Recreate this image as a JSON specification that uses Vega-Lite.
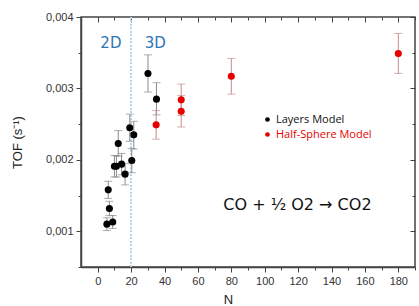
{
  "$schema": "https://vega.github.io/schema/vega-lite/v6.json",
  "width": 334,
  "height": 250,
  "autosize": "none",
  "padding": {"left": 81, "top": 17, "right": 4, "bottom": 39},
  "config": {
    "locale": {"number": {"decimal": ",", "thousands": ".", "grouping": [3], "currency": ["", ""]}},
    "view": {"stroke": "#444", "strokeWidth": 1.5},
    "axis": {"labelFont": "Liberation Sans", "titleFont": "Liberation Sans", "titleFontWeight": "normal", "labelColor": "#333", "titleColor": "#222", "domainColor": "#444", "tickColor": "#444", "grid": false}
  },
  "data": {
    "values": [
      {"model": "Layers Model", "N": 5.5, "tof": 0.00110, "lo": 0.00101, "hi": 0.00119},
      {"model": "Layers Model", "N": 6.3, "tof": 0.00158, "lo": 0.00146, "hi": 0.00170},
      {"model": "Layers Model", "N": 7.0, "tof": 0.00132, "lo": 0.00122, "hi": 0.00142},
      {"model": "Layers Model", "N": 9.0, "tof": 0.00113, "lo": 0.00104, "hi": 0.00122},
      {"model": "Layers Model", "N": 10.0, "tof": 0.00191, "lo": 0.00176, "hi": 0.00206},
      {"model": "Layers Model", "N": 11.2, "tof": 0.00191, "lo": 0.00176, "hi": 0.00206},
      {"model": "Layers Model", "N": 12.3, "tof": 0.00223, "lo": 0.00205, "hi": 0.00241},
      {"model": "Layers Model", "N": 14.3, "tof": 0.00194, "lo": 0.00179, "hi": 0.00209},
      {"model": "Layers Model", "N": 16.4, "tof": 0.00180, "lo": 0.00165, "hi": 0.00195},
      {"model": "Layers Model", "N": 19.2, "tof": 0.00245, "lo": 0.00226, "hi": 0.00264},
      {"model": "Layers Model", "N": 20.4, "tof": 0.00199, "lo": 0.00182, "hi": 0.00216},
      {"model": "Layers Model", "N": 21.6, "tof": 0.00235, "lo": 0.00215, "hi": 0.00254},
      {"model": "Layers Model", "N": 30.1, "tof": 0.00321, "lo": 0.00295, "hi": 0.00347},
      {"model": "Layers Model", "N": 35.2, "tof": 0.00285, "lo": 0.00263, "hi": 0.00308},
      {"model": "Half-Sphere Model", "N": 35.0, "tof": 0.00249, "lo": 0.00229, "hi": 0.00269},
      {"model": "Half-Sphere Model", "N": 50.0, "tof": 0.00284, "lo": 0.00262, "hi": 0.00306},
      {"model": "Half-Sphere Model", "N": 50.0, "tof": 0.00268, "lo": 0.00246, "hi": 0.00290},
      {"model": "Half-Sphere Model", "N": 80.0, "tof": 0.00317, "lo": 0.00292, "hi": 0.00342},
      {"model": "Half-Sphere Model", "N": 180.0, "tof": 0.00349, "lo": 0.00321, "hi": 0.00377}
    ]
  },
  "resolve": {"axis": {"x": "independent", "y": "independent"}},
  "layer": [
    {
      "mark": {"type": "rule", "color": "#b3d5ec", "strokeDash": [1.5, 2], "strokeWidth": 1},
      "encoding": {
        "x": {"datum": 20, "type": "quantitative", "scale": {"domain": [-10, 190], "nice": false, "zero": false}, "axis": null}
      }
    },
    {
      "mark": {"type": "rule", "strokeWidth": 1},
      "encoding": {
        "x": {"field": "N", "type": "quantitative", "scale": {"domain": [-10, 190], "nice": false, "zero": false},
          "axis": {"orient": "top", "title": null, "labels": false, "values": [0, 10, 20, 30, 40, 50, 60, 70, 80, 90, 100, 110, 120, 130, 140, 150, 160, 170, 180, 190], "domain": false,
            "tickSize": {"condition": {"test": "datum.value % 20 === 0", "value": -5}, "value": -3}}},
        "y": {"field": "lo", "type": "quantitative", "scale": {"domain": [0.0005, 0.004], "nice": false, "zero": false},
          "axis": {"orient": "right", "title": null, "labels": false, "values": [0.0005, 0.001, 0.0015, 0.002, 0.0025, 0.003, 0.0035, 0.004], "domain": false,
            "tickSize": {"condition": {"test": "abs(datum.value*1000 - round(datum.value*1000)) < 0.01", "value": -5}, "value": -3}}},
        "y2": {"field": "hi"},
        "color": {"condition": {"test": "datum.model === 'Layers Model'", "value": "#8a8a8a"}, "value": "#c98a8a"}
      }
    },
    {
      "mark": {"type": "tick", "orient": "horizontal", "size": 8, "thickness": 1},
      "encoding": {
        "x": {"field": "N", "type": "quantitative", "axis": null},
        "y": {"field": "lo", "type": "quantitative", "axis": null},
        "color": {"condition": {"test": "datum.model === 'Layers Model'", "value": "#8a8a8a"}, "value": "#c98a8a"}
      }
    },
    {
      "mark": {"type": "tick", "orient": "horizontal", "size": 8, "thickness": 1},
      "encoding": {
        "x": {"field": "N", "type": "quantitative", "axis": null},
        "y": {"field": "hi", "type": "quantitative", "axis": null},
        "color": {"condition": {"test": "datum.model === 'Layers Model'", "value": "#8a8a8a"}, "value": "#c98a8a"}
      }
    },
    {
      "mark": {"type": "circle", "size": 50, "opacity": 1},
      "encoding": {
        "x": {"field": "N", "type": "quantitative", "title": "N",
          "axis": {"values": [0, 10, 20, 30, 40, 50, 60, 70, 80, 90, 100, 110, 120, 130, 140, 150, 160, 170, 180, 190],
            "labelExpr": "datum.value % 20 === 0 && datum.value < 190 ? datum.label : ''",
            "tickSize": {"condition": {"test": "datum.value % 20 === 0", "value": 5}, "value": 3},
            "labelFontSize": 11, "labelPadding": 3, "titleFontSize": 13, "titleX": 147, "titleY": 26, "domainWidth": 1.5}},
        "y": {"field": "tof", "type": "quantitative", "title": "TOF (s⁻¹)",
          "axis": {"values": [0.0005, 0.001, 0.0015, 0.002, 0.0025, 0.003, 0.0035, 0.004], "format": ".3f",
            "labelExpr": "abs(datum.value*1000 - round(datum.value*1000)) < 0.01 ? datum.label : ''",
            "tickSize": {"condition": {"test": "abs(datum.value*1000 - round(datum.value*1000)) < 0.01", "value": 5}, "value": 3},
            "labelFontSize": 11, "labelPadding": 3, "titleFontSize": 13, "titlePadding": 21, "domainWidth": 1.5}},
        "color": {"field": "model", "type": "nominal",
          "scale": {"domain": ["Layers Model", "Half-Sphere Model"], "range": ["#000000", "#e60000"]},
          "legend": {"orient": "none", "legendX": 181, "legendY": 97, "title": null, "symbolType": "circle", "symbolSize": 22, "labelFont": "Open Sans", "labelFontSize": 11, "rowPadding": 3, "symbolOpacity": 1, "labelOffset": 3,
            "labelColor": {"expr": "datum.label === 'Layers Model' ? '#111111' : '#e60000'"}}}
      }
    },
    {
      "data": {"values": [
        {"label": "2D", "N": 7.9, "tof": 0.00364, "kind": "dim"},
        {"label": "3D", "N": 34.5, "tof": 0.00364, "kind": "dim"},
        {"label": "CO + ½ O2 → CO2", "N": 119.6, "tof": 0.00137, "kind": "eq"}
      ]},
      "mark": {"type": "text", "font": "DejaVu Sans", "baseline": "middle", "align": "center"},
      "encoding": {
        "x": {"field": "N", "type": "quantitative", "axis": null},
        "y": {"field": "tof", "type": "quantitative", "axis": null},
        "text": {"field": "label"},
        "size": {"condition": {"test": "datum.kind === 'dim'", "value": 15}, "value": 16},
        "color": {"condition": {"test": "datum.kind === 'dim'", "value": "#2e75b6"}, "value": "#111111"}
      }
    }
  ]
}
